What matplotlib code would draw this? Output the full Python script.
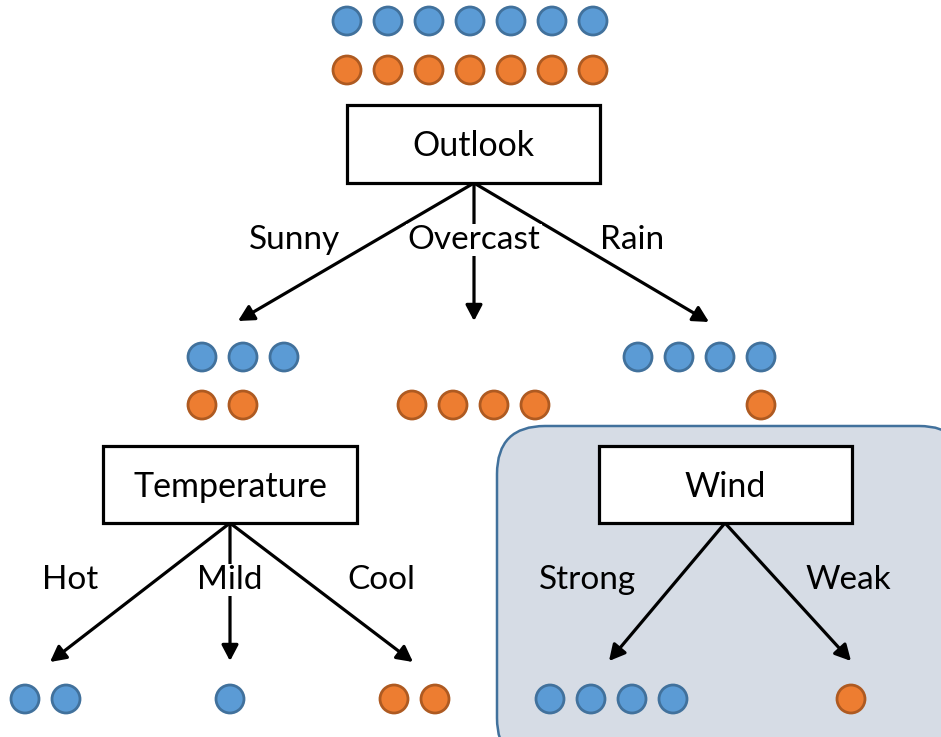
import matplotlib.pyplot as plt
from matplotlib.patches import Circle, Rectangle, FancyBboxPatch

# class counts (blue = yes, orange = no)
root_counts = (7, 7)
outlook_labels = ["Sunny", "Overcast", "Rain"]
outlook_counts = [(3, 2), (0, 4), (4, 1)]
temp_labels = ["Hot", "Mild", "Cool"]
temp_counts = [(2, 0), (1, 0), (0, 2)]
wind_labels = ["Strong", "Weak"]
wind_counts = [(4, 0), (0, 1)]

BLUE, BLUE_EDGE = "#5B9BD5", "#41719C"
ORANGE, ORANGE_EDGE = "#ED7D31", "#AE5A21"
FONT = "Lato"
R = 14
STEP = 41


def dots(ax, x0, y, n, fc, ec):
    for i in range(n):
        ax.add_patch(Circle((x0 + i * STEP, y), R, fc=fc, ec=ec, lw=2, zorder=3))


def box(ax, x0, y0, x1, y1, text):
    ax.add_patch(Rectangle((x0, y0), x1 - x0, y1 - y0, fc="white", ec="black", lw=2.3, zorder=3))
    ax.text((x0 + x1) / 2, (y0 + y1) / 2 + 2, text, ha="center", va="center",
            fontsize=24.5, family=FONT, zorder=4)


def label(ax, pos, text, bg):
    ax.text(pos[0], pos[1], text, ha="center", va="center", fontsize=24, family=FONT, zorder=5,
            bbox=dict(fc=bg, ec="none", pad=1) if bg else None)


def arrow(ax, start, end):
    ax.annotate("", xy=end, xytext=start,
                arrowprops=dict(arrowstyle="-|>,head_length=0.95,head_width=0.5",
                                color="black", lw=2.3, shrinkA=0, shrinkB=0), zorder=2)


fig = plt.figure(figsize=(9.41, 7.37), dpi=100)
ax = fig.add_axes([0, 0, 1, 1])
ax.set_xlim(0, 941)
ax.set_ylim(737, 0)
ax.axis("off")

# highlighted subtree
ax.add_patch(FancyBboxPatch((497, 426), 470, 340, boxstyle="round,pad=0,rounding_size=48",
                            fc="#D6DCE5", ec="#41719C", lw=1.8, zorder=0))

# root
dots(ax, 347, 21, root_counts[0], BLUE, BLUE_EDGE)
dots(ax, 347, 70, root_counts[1], ORANGE, ORANGE_EDGE)
box(ax, 347, 105, 600, 183, "Outlook")

outlook_ends = [(238, 321), (474, 321), (709, 322)]
outlook_label_pos = [(295, 240), (474, 240), (632, 240)]
for end, lab, pos in zip(outlook_ends, outlook_labels, outlook_label_pos):
    arrow(ax, (474, 183), end)
    label(ax, pos, lab, "white" if lab == "Overcast" else None)

# second level dots: (blue x0, orange x0)
lvl2_x = [(202, 202), (None, 412), (638, 761)]
for (bx, ox), (nb, no) in zip(lvl2_x, outlook_counts):
    if nb:
        dots(ax, bx, 357, nb, BLUE, BLUE_EDGE)
    if no:
        dots(ax, ox, 405, no, ORANGE, ORANGE_EDGE)

box(ax, 103, 446, 357, 523, "Temperature")
box(ax, 599, 446, 852, 523, "Wind")

temp_ends = [(50, 662), (230, 661), (413, 662)]
temp_label_pos = [(70, 580), (230, 580), (381, 580)]
temp_x = [25, 230, 394]
for end, lab, pos, x0, (nb, no) in zip(temp_ends, temp_labels, temp_label_pos, temp_x, temp_counts):
    arrow(ax, (230, 523), end)
    label(ax, pos, lab, "white" if lab == "Mild" else None)
    dots(ax, x0, 699, nb, BLUE, BLUE_EDGE)
    dots(ax, x0, 699, no, ORANGE, ORANGE_EDGE)

wind_ends = [(609, 661), (851, 661)]
wind_label_pos = [(587, 580), (848, 580)]
wind_x = [550, 851]
for end, lab, pos, x0, (nb, no) in zip(wind_ends, wind_labels, wind_label_pos, wind_x, wind_counts):
    arrow(ax, (725, 523), end)
    label(ax, pos, lab, None)
    dots(ax, x0, 699, nb, BLUE, BLUE_EDGE)
    dots(ax, x0, 699, no, ORANGE, ORANGE_EDGE)

fig.savefig("out.png", dpi=100)
